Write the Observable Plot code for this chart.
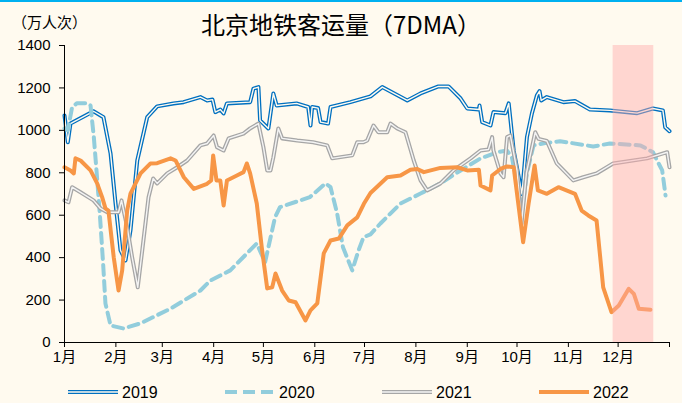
<!DOCTYPE html>
<html>
<head>
<meta charset="utf-8">
<script src="https://cdn.jsdelivr.net/npm/d3@7"></script>
<script src="https://cdn.jsdelivr.net/npm/@observablehq/plot@0.6"></script>
<style>
  html, body { margin: 0; padding: 0; background: #FFFAEF; }
  #wrap { position: relative; width: 682px; height: 403px; background: #FFFAEF; overflow: hidden; }
  #topline { position: absolute; left: 0; top: 0; width: 682px; height: 2px; background: #00B0F0; }
  #title { position: absolute; left: 0; top: 6px; width: 682px; text-align: center; font-family: "Noto Sans CJK SC", sans-serif; font-size: 24px; color: #000; }
  #unit { position: absolute; left: 12px; top: 11px; font-family: "Noto Sans CJK SC", sans-serif; font-size: 15px; color: #000; }
  #chart { position: absolute; left: 0; top: 0; }
  #legend { position: absolute; left: 0; top: 380px; }
</style>
</head>
<body>
<div id="wrap">
  <div id="topline"></div>
  <div id="chart"></div>
  <div id="title">北京地铁客运量（7DMA）</div>
  <div id="unit">（万人次）</div>
  <div id="legend"></div>
</div>
<script>
// ---- data ----
const monthLabels = ["1月","2月","3月","4月","5月","6月","7月","8月","9月","10月","11月","12月"];
const monthStarts = [0,31,59,90,120,151,181,212,243,273,304,334,365];
const yTicks = [0,200,400,600,800,1000,1200,1400];
const seriesNames = ["2019","2020","2021","2022"];
const bandDays = [331, 355.5];

const day2019 = [0,2,3.6,17.5,23.5,27.8,30.8,33.8,36.8,39.8,43.9,49.9,55.9,65.8,71.8,82,86,89.3,91,94,96,98,112,114,117,118,123,126,128,140,147,148.4,149.4,153,154.5,159,160.5,172.5,184.6,191.7,206.8,214.8,225.6,231.7,239,243,250,250.4,252,257,258.8,266,268,271,276,279,282,285,286.6,287.6,291,301,308,317,329,345.5,355,361,362.4,365];
const val2019 = [1070,944,1032,1090,1062,890,655,434,387,528,858,1062,1113,1127,1133,1157,1141,1145,1086,1098,1080,1127,1133,1197,1204,1047,1009,1174,1117,1127,1110,1023,1110,1105,1039,1032,1110,1133,1160,1204,1141,1174,1207,1207,1150,1103,1098,1117,1039,1023,1086,1081,1127,905,700,968,1080,1165,1185,1141,1157,1133,1138,1098,1094,1081,1103,1094,1015,996];

const day2020 = [0,2,4.6,7.6,13.7,15.7,17.7,19.3,21.3,23.3,24.7,27.8,35.6,45.8,64,82,88,94,100,116,121,127,130,148,157.5,160.5,164.5,168,173.6,177.4,180.4,184.6,190.6,202.7,214.8,226.8,239,251,261,267,270,274,276,279,283,290,299,319,329,347.5,355,360.6,362.6];
const val2020 = [1010,1000,1110,1128,1128,1117,968,811,608,372,184,80,66,90,160,245,292,316,340,467,378,590,638,685,750,732,608,449,340,434,496,510,561,655,702,750,811,868,897,905,870,700,620,800,930,940,949,924,938,929,897,811,693];

const day2021 = [0,2.4,4.6,9.7,17.5,21.7,25.8,32.6,34.4,37.8,40.8,44.2,46.9,50.7,53.5,55.9,62,68,74,82,86,90,92,96,99,108,112,117,120,122.3,124.3,126,129,131.3,140.4,150,158.5,161.5,173.6,176.6,180.4,182.6,186.4,189.4,194.7,196.7,200.7,205.7,210.7,214.8,218.8,226.8,234.7,245,251,255.8,258,258.8,263,264.9,267,269,273,275.7,278.7,284,286,291,297,307,313,321,331,351.5,363.6,365];
const val2021 = [670,661,732,708,670,632,614,614,670,544,402,260,434,685,773,750,797,826,858,929,938,976,921,905,962,985,1009,1032,921,811,811,873,1009,962,952,944,929,868,882,944,944,952,1023,991,991,1032,1009,991,858,764,717,750,811,868,905,910,968,905,797,779,968,976,811,560,800,991,960,950,844,764,779,797,844,868,897,826];

const day2022 = [0,3.6,5.6,6.6,9.7,15.7,19.7,22.7,24.7,26.5,29.7,32.6,34.8,37.8,39.8,45.9,51.9,55.9,64,67,72,78,86,88.5,89.7,91.7,94,96,98,104,108,110,112,116,119,122.3,125.3,127.3,131.3,135.3,139.4,145.4,148.4,152.5,156.4,160.5,165.5,170.6,176.6,180.6,184.6,194.7,202.7,208.7,212.8,216.8,226.8,236.9,243,250,251,257,258,263,267,271,276.7,280,283.6,285.6,291,298,308,312,316,321,325,330,334.4,340.4,343.5,346.5,353.5];
const val2022 = [826,811,797,868,858,811,750,685,632,622,402,245,340,622,702,797,844,845,868,858,779,724,748,764,882,764,764,646,764,787,803,844,797,655,449,255,260,325,245,198,190,104,151,184,420,481,490,552,590,654,705,779,787,814,818,803,823,826,811,814,740,717,787,818,830,826,473,655,834,717,701,732,701,622,599,575,260,143,174,253,229,159,154];

// ---- build tables ----
const toRows = (days, vals) => days.map((d, i) => ({d, v: vals[i]}));
const s2019 = toRows(day2019, val2019);
const s2020 = toRows(day2020, val2020);
const s2021 = toRows(day2021, val2021);
const s2022 = toRows(day2022, val2022);
const band = [{x1: bandDays[0], x2: bandDays[1]}];

const BG = "#FFFAEF";
const C2019 = "#0070C0", C2020 = "#92CDDC", C2021 = "#A6A6A6", C2022 = "#F79646";

const chart = Plot.plot({
  width: 682,
  height: 403,
  marginTop: 45,
  marginBottom: 61,
  marginLeft: 64,
  marginRight: 13,
  style: {background: "transparent", fontFamily: "Arial, 'Liberation Sans', 'Noto Sans CJK SC', sans-serif", fontSize: "15px", color: "#000"},
  x: {domain: [0, 365]},
  y: {domain: [0, 1400]},
  marks: [
    Plot.line(s2019, {x: "d", y: "v", stroke: C2019, strokeWidth: 4}),
    Plot.line(s2019, {x: "d", y: "v", stroke: BG, strokeWidth: 1.4}),
    Plot.line(s2020, {x: "d", y: "v", stroke: C2020, strokeWidth: 4, strokeDasharray: "10,6"}),
    Plot.line(s2021, {x: "d", y: "v", stroke: C2021, strokeWidth: 4}),
    Plot.line(s2021, {x: "d", y: "v", stroke: "#F4F4F4", strokeWidth: 1.4}),
    Plot.line(s2022, {x: "d", y: "v", stroke: C2022, strokeWidth: 4}),
    Plot.rect(band, {x1: "x1", x2: "x2", y1: 0, y2: 1400, fill: "#FFAAAA", fillOpacity: 0.45}),
    Plot.ruleX([0], {stroke: "#000", strokeWidth: 1}),
    Plot.ruleY([0], {stroke: "#000", strokeWidth: 1}),
    Plot.axisY({ticks: yTicks, tickSize: 5, tickPadding: 9, label: null, fontSize: 15, tickFormat: d => String(d)}),
    Plot.axisX({ticks: monthStarts, tickSize: 5, tickPadding: 4, label: null, fontSize: 15,
      tickFormat: d => { const i = monthStarts.indexOf(d); return i >= 0 && i < 12 ? monthLabels[i] : ""; }})
  ]
});
document.getElementById("chart").appendChild(chart);

// ---- legend ----
const ns = "http://www.w3.org/2000/svg";
const lg = document.createElementNS(ns, "svg");
lg.setAttribute("width", 682);
lg.setAttribute("height", 23);
const items = [
  {name: seriesNames[0], x: 68, kind: "double", c: C2019, inner: BG},
  {name: seriesNames[1], x: 225, kind: "dash", c: C2020},
  {name: seriesNames[2], x: 382, kind: "double", c: C2021, inner: "#F4F4F4"},
  {name: seriesNames[3], x: 539, kind: "solid", c: C2022}
];
const yy = 12;
for (const it of items) {
  const mk = (stroke, w, dash) => {
    const l = document.createElementNS(ns, "line");
    l.setAttribute("x1", it.x); l.setAttribute("x2", it.x + 50);
    l.setAttribute("y1", yy); l.setAttribute("y2", yy);
    l.setAttribute("stroke", stroke); l.setAttribute("stroke-width", w);
    if (dash) l.setAttribute("stroke-dasharray", dash);
    lg.appendChild(l);
  };
  if (it.kind === "double") { mk(it.c, 4); mk(it.inner, 1.4); }
  else if (it.kind === "dash") mk(it.c, 4, "12,6");
  else mk(it.c, 4);
  const t = document.createElementNS(ns, "text");
  t.setAttribute("x", it.x + 54); t.setAttribute("y", yy + 5.5);
  t.setAttribute("font-family", "Arial, 'Liberation Sans', sans-serif");
  t.setAttribute("font-size", 16);
  t.textContent = it.name;
  lg.appendChild(t);
}
document.getElementById("legend").appendChild(lg);
</script>
</body>
</html>
